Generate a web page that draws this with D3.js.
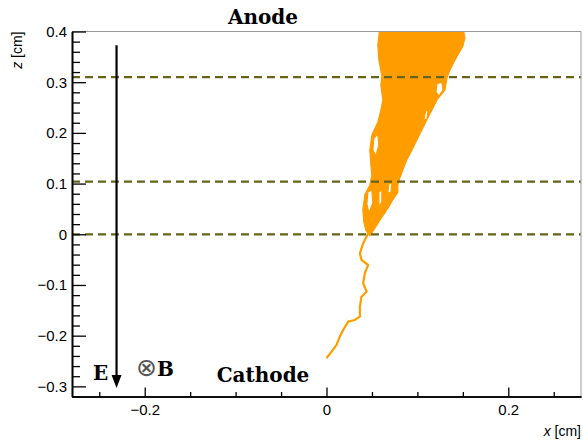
<!DOCTYPE html>
<html>
<head>
<meta charset="utf-8">
<script src="https://cdn.jsdelivr.net/npm/d3@7"></script>
<style>
  body { margin: 0; background: #fff; }
  svg { display: block; }
  .tick text { font-family: "Liberation Sans", Arial, sans-serif; font-size: 15px; fill: #000; }
</style>
</head>
<body>
<div id="chart"></div>
<script>
// Axis ranges and ticks
const xDomain = [-0.28, 0.28];
const zDomain = [-0.32, 0.4];
const xMajorTicks = [-0.2, 0, 0.2];
const xMinorTicks = [-0.25, -0.15, -0.1, -0.05, 0.05, 0.1, 0.15, 0.25];
const zMajorTicks = [-0.3, -0.2, -0.1, 0, 0.1, 0.2, 0.3, 0.4];
const zMinorTicks = [-0.32, -0.28, -0.26, -0.24, -0.22, -0.18, -0.16, -0.14, -0.12,
  -0.08, -0.06, -0.04, -0.02, 0.02, 0.04, 0.06, 0.08, 0.12, 0.14, 0.16, 0.18,
  0.22, 0.24, 0.26, 0.28, 0.32, 0.34, 0.36, 0.38];

// Layer boundaries (dashed lines), z in cm
const layerZ = [0.31, 0.104, 0];

// Single primary electron drift track below z = 0 (x, z)
const trackX = [0.0458, 0.0403, 0.0367, 0.0385, 0.0458, 0.0422, 0.0403, 0.0441, 0.0385,
  0.0367, 0.0367, 0.0312, 0.0238, 0.0183, 0.0146, 0.011, 0.0055, 0.0];
const trackZ = [0.002, -0.018, -0.0375, -0.0507, -0.0606, -0.0769, -0.0966, -0.1132, -0.1231,
  -0.1428, -0.1625, -0.169, -0.1724, -0.1888, -0.202, -0.2183, -0.2316, -0.2446];

// Outline of the avalanche cloud (x, z)
const cloudX = [0.0587, 0.150, 0.1523, 0.150, 0.1413, 0.1358, 0.1325, 0.1303, 0.1215, 0.116,
  0.1105, 0.105, 0.0994, 0.0939, 0.0884, 0.084, 0.0807, 0.0785, 0.0785, 0.073, 0.0697,
  0.0642, 0.0587, 0.0532, 0.0477, 0.0433, 0.0411, 0.04, 0.0422, 0.0477, 0.0499, 0.0488,
  0.0477, 0.0499, 0.0565, 0.0598, 0.062, 0.0598, 0.0609, 0.0576, 0.0565];
const cloudZ = [0.41, 0.41, 0.387, 0.371, 0.344, 0.324, 0.308, 0.285, 0.265, 0.245,
  0.226, 0.206, 0.186, 0.166, 0.147, 0.127, 0.111, 0.097, 0.083, 0.068, 0.058,
  0.042, 0.028, 0.012, -0.003, 0.008, 0.024, 0.048, 0.078, 0.097, 0.117, 0.137,
  0.166, 0.196, 0.221, 0.245, 0.265, 0.294, 0.312, 0.344, 0.373];

// Gaps inside the cloud (x, z)
const holesX = [
  [0.1215, 0.127, 0.1281, 0.1237, 0.1204],
  [0.0521, 0.0565, 0.0576, 0.0543, 0.051],
  [0.0455, 0.0499, 0.051, 0.0466, 0.0444],
  [0.0576, 0.0609, 0.0609, 0.0576],
  [0.0686, 0.0719, 0.0708, 0.0675],
  [0.1094, 0.1116, 0.1105, 0.1072]
];
const holesZ = [
  [0.2965, 0.3004, 0.2846, 0.2728, 0.2807],
  [0.19, 0.1978, 0.1761, 0.1544, 0.1663],
  [0.0834, 0.0874, 0.0617, 0.042, 0.0597],
  [0.0834, 0.0874, 0.0637, 0.0538],
  [0.0992, 0.1012, 0.0815, 0.0834],
  [0.2452, 0.2432, 0.2255, 0.2274]
];

// Field arrow (x, z top, z bottom)
const arrowX = -0.231;
const arrowZ = [0.373, -0.303];

const W = 583, H = 440;
const margin = { left: 72, right: 2, top: 31.5, bottom: 43.5 };
const orange = '#ff9d00';
const olive = '#64641a';

const svg = d3.select('#chart').append('svg')
  .attr('width', W).attr('height', H);

const x = d3.scaleLinear().domain(xDomain).range([margin.left, W - margin.right]);
const z = d3.scaleLinear().domain(zDomain).range([H - margin.bottom, margin.top]);

svg.append('clipPath').attr('id', 'plotclip')
  .append('rect')
  .attr('x', x(xDomain[0])).attr('y', z(zDomain[1]))
  .attr('width', x(xDomain[1]) - x(xDomain[0]))
  .attr('height', z(zDomain[0]) - z(zDomain[1]));

const plot = svg.append('g').attr('clip-path', 'url(#plotclip)');

// cloud with holes (even-odd fill)
const ringPath = (xs, zs) => 'M' + xs.map((v, i) => `${x(v)},${z(zs[i])}`).join('L') + 'Z';
let cloudD = ringPath(cloudX, cloudZ);
holesX.forEach((hx, i) => { cloudD += ringPath(hx, holesZ[i]); });
plot.append('path')
  .attr('d', cloudD)
  .attr('fill', orange)
  .attr('fill-rule', 'evenodd')
  .attr('stroke', orange)
  .attr('stroke-width', 1.2)
  .attr('stroke-linejoin', 'round');

// track
const line = d3.line().x(d => x(d[0])).y(d => z(d[1]));
plot.append('path')
  .attr('d', line(trackX.map((v, i) => [v, trackZ[i]])))
  .attr('fill', 'none')
  .attr('stroke', orange)
  .attr('stroke-width', 2.2)
  .attr('stroke-linejoin', 'round');

// dashed layer lines
plot.selectAll('line.layer').data(layerZ).join('line')
  .attr('class', 'layer')
  .attr('x1', x(xDomain[0])).attr('x2', x(xDomain[1]))
  .attr('y1', d => z(d)).attr('y2', d => z(d))
  .attr('stroke', olive)
  .attr('stroke-width', 2.3)
  .attr('stroke-dasharray', '8,5');

// E field arrow
svg.append('line')
  .attr('x1', x(arrowX)).attr('x2', x(arrowX))
  .attr('y1', z(arrowZ[0])).attr('y2', z(arrowZ[1]) - 8)
  .attr('stroke', '#000').attr('stroke-width', 2.2);
const ax = x(arrowX), ay = z(arrowZ[1]);
svg.append('path')
  .attr('d', `M${ax - 5},${ay - 13}L${ax + 5},${ay - 13}L${ax},${ay}Z`)
  .attr('fill', '#000');

// frame: top/right thin grey
svg.append('line')
  .attr('x1', x(xDomain[0])).attr('x2', x(xDomain[1]))
  .attr('y1', z(zDomain[1])).attr('y2', z(zDomain[1]))
  .attr('stroke', '#999').attr('stroke-width', 1);
svg.append('line')
  .attr('x1', x(xDomain[1])).attr('x2', x(xDomain[1]))
  .attr('y1', z(zDomain[1])).attr('y2', z(zDomain[0]))
  .attr('stroke', '#999').attr('stroke-width', 1);

const fmt = d => d === 0 ? '0' : d3.format('.1f')(d);

// y axis
const yMinor = svg.append('g').attr('transform', `translate(${x(xDomain[0])},0)`)
  .call(d3.axisLeft(z).tickValues(zMinorTicks).tickSizeInner(-8).tickSizeOuter(0).tickFormat(''));
const yMajor = svg.append('g').attr('transform', `translate(${x(xDomain[0])},0)`)
  .call(d3.axisLeft(z).tickValues(zMajorTicks).tickSizeInner(-14).tickSizeOuter(0).tickPadding(5).tickFormat(fmt));

// x axis
const xMinor = svg.append('g').attr('transform', `translate(0,${z(zDomain[0])})`)
  .call(d3.axisBottom(x).tickValues(xMinorTicks).tickSizeInner(-4.5).tickSizeOuter(0).tickFormat(''));
const xMajor = svg.append('g').attr('transform', `translate(0,${z(zDomain[0])})`)
  .call(d3.axisBottom(x).tickValues(xMajorTicks).tickSizeInner(-9).tickSizeOuter(0).tickPadding(8).tickFormat(fmt));

[yMinor, yMajor, xMinor, xMajor].forEach(g => {
  g.selectAll('.tick line').attr('stroke', '#000').attr('stroke-width', 1.3);
  g.select('.domain').attr('stroke', '#000').attr('stroke-width', 1.6);
});

// axis titles
const zt = svg.append('text')
  .attr('transform', `translate(22,${margin.top}) rotate(-90)`)
  .attr('text-anchor', 'end')
  .style('font-family', '"Liberation Sans", Arial, sans-serif')
  .style('font-size', '14px');
zt.append('tspan').style('font-style', 'italic').text('z');
zt.append('tspan').text(' [cm]');

const xt = svg.append('text')
  .attr('x', W - margin.right)
  .attr('y', 436)
  .attr('text-anchor', 'end')
  .style('font-family', '"Liberation Sans", Arial, sans-serif')
  .style('font-size', '14px');
xt.append('tspan').style('font-style', 'italic').text('x');
xt.append('tspan').text(' [cm]');

// annotations
const serif = '"DejaVu Serif", serif';
const note = (t, px, py, anchor, size) => svg.append('text')
  .attr('x', px).attr('y', py)
  .attr('text-anchor', anchor)
  .style('font-family', serif)
  .style('font-weight', 'bold')
  .style('font-size', size + 'px')
  .text(t);
note('Anode', 263, 24, 'middle', 20);
note('Cathode', 263, 382, 'middle', 20);
note('E', 93, 380, 'start', 20);
const bt = svg.append('text')
  .attr('x', 136).attr('y', 376);
bt.append('tspan')
  .style('font-family', '"DejaVu Sans", sans-serif')
  .style('font-weight', 'normal')
  .style('font-size', '25px')
  .style('fill', '#555')
  .text('⊗');
bt.append('tspan')
  .style('font-family', serif)
  .style('font-weight', 'bold')
  .style('font-size', '20px')
  .text('B');
</script>
</body>
</html>
